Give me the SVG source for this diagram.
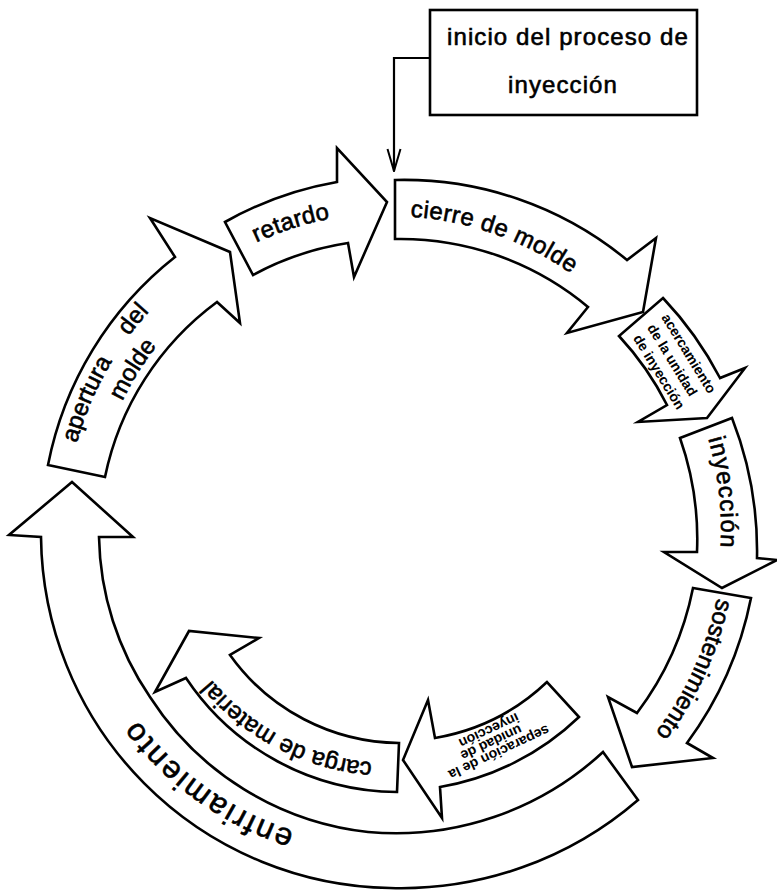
<svg xmlns="http://www.w3.org/2000/svg" width="777" height="890" viewBox="0 0 777 890">
<style>
.a{fill:#fff;stroke:#000;stroke-width:2.6;stroke-linejoin:miter;stroke-miterlimit:6}
.t{font-family:"Liberation Sans",Arial,Helvetica,sans-serif;font-size:24px;fill:#000;stroke:#000;stroke-width:0.6}
.s{font-family:"Liberation Sans",Arial,Helvetica,sans-serif;font-size:14px;font-weight:bold;fill:#000}
.c{fill:none;stroke:#000;stroke-width:2.2}
</style>
<defs>
<marker id="v" viewBox="0 0 24 16" refX="23" refY="8" markerWidth="24" markerHeight="16" markerUnits="userSpaceOnUse" orient="auto">
<path d="M1,1.5 L23,8 L1,14.5" fill="none" stroke="#000" stroke-width="2"/>
</marker>
<path id="pRet" d="M231.5,255.5 A317,317 0 0 1 358,214.6"/>
<path id="pCie" d="M410.3,216.7 A314,314 0 0 1 630.5,328.2"/>
<path id="pIny" d="M701,416.8 A331,331 0 0 1 718.4,571.5"/>
<path id="pSos" d="M722.7,559.1 A334,334 0 0 1 629.4,762.9"/>
<path id="pCar" d="M381.9,762.9 A233,233 0 0 1 205.4,672.2"/>
<path id="pEnf" d="M362.4,844.8 A316,316 0 0 1 101.3,658.5"/>
<path id="pAp1" d="M76.8,443.2 A325,325 0 0 1 156.2,304.2"/>
<path id="pAp2" d="M103.1,453.1 A297,297 0 0 1 195.1,305.9"/>
</defs>

<g id="inicio">
<rect x="430" y="10" width="267" height="105" fill="#fff" stroke="#000" stroke-width="2.6"/>
<text class="t" x="447" y="45" letter-spacing="1.1">inicio del proceso de</text>
<text class="t" x="508" y="93" letter-spacing="1.1">inyección</text>
</g>

<g id="connectors">
<polyline class="c" points="430,58 394,58 394,171" marker-end="url(#v)"/>
</g>

<g id="enfriamiento">
<path class="a" d="M72,482 L133,537 L99,537 A293,293 0 0 0 150,697 A298,298 0 0 0 368,832 A305,305 0 0 0 603,752 L638,800 A362,362 0 0 1 390,888 A355,355 0 0 1 41,537 L9,535 Z"/>
<text class="t" style="font-size:31px" letter-spacing="2.2"><textPath href="#pEnf" startOffset="50%" text-anchor="middle">enfriamiento</textPath></text>
</g>

<g id="apertura">
<path class="a" d="M48,465 A350,350 0 0 1 175,257 L150,218 L230,252 L240,323 L217,302 A290,290 0 0 0 105,477 Z"/>
<text class="t"><textPath href="#pAp1" startOffset="0">apertura<tspan dx="30">del</tspan></textPath></text>
<text class="t"><textPath href="#pAp2" startOffset="50%" text-anchor="middle">molde</textPath></text>
</g>

<g id="retardo">
<path class="a" d="M225,222 A350,350 0 0 1 337,182 L337,148 L387,202 L354,277 L348,243 A290,290 0 0 0 253,275 Z"/>
<text class="t" letter-spacing="0.3"><textPath href="#pRet" startOffset="50%" text-anchor="middle">retardo</textPath></text>
</g>

<g id="cierre">
<path class="a" d="M395,180 A350,350 0 0 1 627,260 L656,238 L643,312 L567,333 L588,307 A292,292 0 0 0 395,239 Z"/>
<text class="t" letter-spacing="0.5"><textPath href="#pCie" startOffset="0">cierre de molde</textPath></text>
</g>

<g id="acercamiento">
<path class="a" d="M663,298 A355,355 0 0 1 720,378 L745,368 L707,418 L638,422 L667,405 A300,300 0 0 0 619,336 Z"/>
<g transform="translate(672.5,360) rotate(58.4)">
<text class="s" x="3" y="-12.5" text-anchor="middle">acercamiento</text>
<text class="s" x="0" y="5" text-anchor="middle">de la unidad</text>
<text class="s" x="3" y="22.5" text-anchor="middle">de inyección</text>
</g>
</g>

<g id="inyeccion">
<path class="a" d="M680,438 L732,418 A365,365 0 0 1 757,558 L777,560 L722,588 L664,552 L697,552 A305,305 0 0 0 680,438 Z"/>
<text class="t" letter-spacing="1.2"><textPath href="#pIny" startOffset="50%" text-anchor="middle">inyección</textPath></text>
</g>

<g id="sostenimiento">
<path class="a" d="M693,588 L751,598 A365,365 0 0 1 687,743 L713,758 L632,767 L608,697 L637,713 A307,307 0 0 0 693,588 Z"/>
<text class="t" letter-spacing="0.1"><textPath href="#pSos" startOffset="50%" text-anchor="middle">sostenimiento</textPath></text>
</g>

<g id="separacion">
<path class="a" d="M547,682 A215,215 0 0 1 435,738 L428,700 L403,760 L442,818 L440,787 A265,265 0 0 0 579,717 Z"/>
<g transform="translate(491,742) rotate(155)">
<text class="s" x="-3" y="-8" text-anchor="middle">separación de la</text>
<text class="s" x="0" y="4" text-anchor="middle">unidad de</text>
<text class="s" x="-3" y="16" text-anchor="middle">inyección</text>
</g>
</g>

<g id="carga">
<path class="a" d="M399,743 A210,210 0 0 1 230,655 L259,638 L189,631 L155,692 L186,678 A256,256 0 0 0 397,792 Z"/>
<text class="t"><textPath href="#pCar" startOffset="50%" text-anchor="middle">carga de material</textPath></text>
</g>
</svg>
